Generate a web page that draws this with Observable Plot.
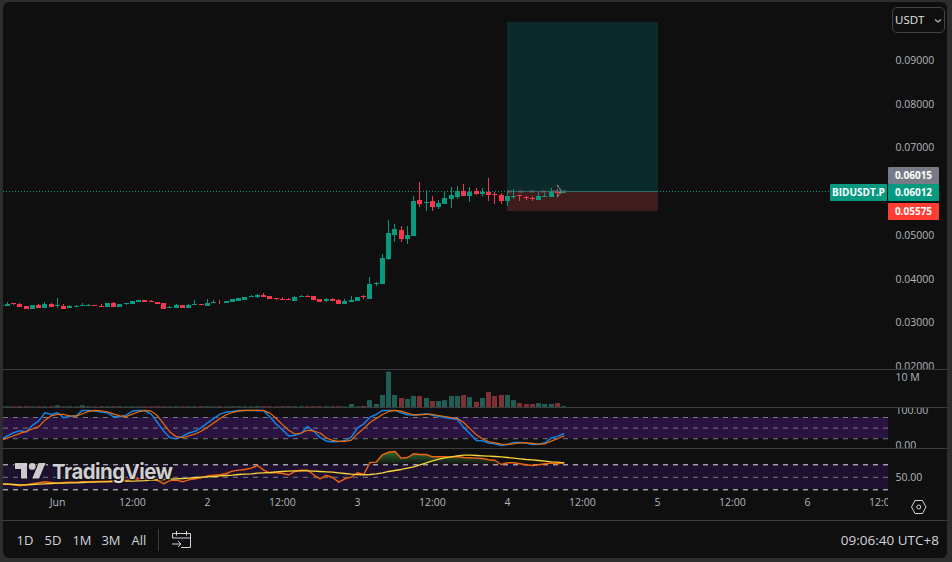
<!DOCTYPE html>
<html><head><meta charset="utf-8">
<script src="https://cdn.jsdelivr.net/npm/d3@7"></script>
<script src="https://cdn.jsdelivr.net/npm/@observablehq/plot@0.6"></script>
<style>
html,body{margin:0;padding:0;background:#2e2e2e;width:952px;height:562px;overflow:hidden}
#root{position:absolute;left:0;top:0;width:952px;height:562px;font-family:"Open Sans",sans-serif;color:#d1d4dc}
#card{position:absolute;left:3px;top:2px;width:944px;height:556px;background:#0f0f0f;border-radius:6px}
.pane{position:absolute;left:0}
.pane svg{display:block;background:transparent}
.sep{position:absolute;left:3px;width:945px;height:1px;background:#3d3d3d}
.chip{position:absolute;height:17px;line-height:17px;color:#fff;font-size:10px;font-weight:700;text-align:center;border-radius:1px}
.tb{position:absolute;top:531px;font-size:13px;font-weight:500;color:#d1d4dc;transform:translateX(-50%);line-height:18px}
</style></head>
<body><div id="root"><div id="card"></div></div>
<script>
// hourly candles, first candle = 9 hours before 1 Jun 00:00; prices in 1e-5 USDT
const firstHour = -9;
const opens = [3377,3377,3445,3422,3377,3308,3400,3331,3422,
 3384,3377,3331,3354,3384,3384,3400,3377,3354,3445,
 3354,3430,3422,3468,3514,3491,3468,3445,3331,3331,
 3400,3331,3400,3422,3377,3445,3476,3445,3468,3491,
 3514,3582,3582,3628,3605,3560,3537,3537,3491,3582,
 3613,3605,3537,3491,3537,3514,3422,3468,3491,3598,
 3537,3880,3880,4451,5000,5114,4908,4977,5800,5731,
 5777,5640,5708,5822,5868,6005,5891,6005,5937,5983,
 5937,5914,5777,5868,5914,5868,5845,5800,5868,5868,5983,5960];
const closes = [3400,3422,3430,3361,3308,3400,3339,3422,3354,
 3400,3308,3377,3377,3400,3400,3384,3361,3445,3354,
 3422,3445,3491,3514,3468,3476,3422,3308,3354,3400,
 3331,3400,3422,3400,3445,3468,3460,3491,3537,3560,
 3582,3605,3636,3582,3537,3537,3514,3514,3582,3613,
 3582,3514,3468,3537,3491,3422,3491,3514,3582,3575,
 3880,3902,4474,5045,5137,4908,5000,5777,5708,5754,
 5640,5731,5845,5914,6005,5891,5983,5937,5983,5914,
 5914,5777,5891,5891,5891,5845,5822,5891,5891,5983,5960,6005];
const highs = [3400,3468,3445,3438,3377,3400,3430,3468,3445,
 3560,3422,3400,3400,3445,3422,3400,3422,3445,3468,
 3422,3445,3491,3514,3514,3514,3468,3445,3377,3422,
 3400,3422,3514,3422,3537,3514,3514,3491,3537,3560,
 3582,3636,3659,3674,3605,3560,3582,3560,3605,3636,
 3636,3605,3537,3560,3560,3537,3537,3605,3582,3628,
 4040,3925,4565,5343,5251,5205,5205,5891,6211,6028,
 5891,5800,6005,6097,6120,6165,6097,6074,6074,6303,
 5983,5960,6028,6051,5914,5891,5891,5983,5960,6074,6051,6028];
const lows = [3377,3377,3400,3361,3308,3308,3339,3331,3354,
 3331,3308,3331,3354,3384,3384,3384,3361,3354,3354,
 3354,3400,3422,3468,3468,3476,3422,3308,3331,3331,
 3331,3331,3400,3400,3377,3445,3422,3445,3468,3491,
 3514,3582,3560,3582,3537,3514,3514,3514,3491,3582,
 3582,3514,3468,3468,3491,3422,3422,3468,3491,3537,
 3537,3834,3880,4428,4840,4840,4794,4977,5640,5548,
 5548,5594,5708,5617,5822,5891,5754,5914,5891,5777,
 5708,5708,5662,5822,5777,5800,5777,5800,5868,5868,5891,5960];
// volume, millions
const volumes = [.25,.25,.2,.25,.25,.2,.25,.2,.25,
 .55,.2,.25,.2,.55,.25,.2,.25,.2,.25,
 .25,.2,.25,.2,.25,.2,.25,.25,.2,.25,
 .2,.25,.2,.25,.25,.2,.25,.2,.25,.25,
 .25,.2,.3,.25,.25,.2,.25,.25,.25,.25,
 .25,.25,.25,.25,.25,.25,.2,1,.2,.35,
 2.3,1,4,11.8,4,3,2.7,3.7,3.7,3,
 2,2,2.3,3.7,3.7,4,3.3,1.7,3,5,
 3.7,4,4,2.3,1.3,1,1,1.3,1,1,1.3,.3];
const stochK = [18.1,27.6,37.1,42.8,39,58,70.4,93.3,88.5,
 93.3,79,83.7,84.7,100,100,98,95.2,93.3,81.8,
 81.8,86.6,98,100,99,89.5,65.7,40.9,22.8,20,
 26.6,36.1,40.9,51.4,64.7,77.1,89.5,95.2,97.1,100,
 100,100,100,99,81.8,60.9,45.7,27.6,29.5,35.2,
 54.2,40.9,23.8,13.3,11.4,12.3,14.2,24.7,50.4,61.8,
 80.9,88.5,100,100,100,93.3,87.6,86.6,88.5,90.4,
 86.6,83.7,79.9,77.1,74.2,51.4,34.2,15.2,14.2,7.6,
 5.7,0.9,3.8,9.5,9.5,7.6,3.8,4.7,8.5,21.9,26.6,34.2];
const stochD = [16.2,21.9,28.5,35.2,40.9,47.6,54.2,72.3,84.7,
 88.5,88.5,84.7,83.7,90.4,97.1,99.9,99,96.1,89.5,
 84.7,82.8,89.5,96.1,99.9,98,84.7,61.8,39,25.7,
 22.8,27.6,33.3,40.9,52.3,64.7,77.1,87.6,94.2,98,
 100,100,100,99.9,92.3,77.1,59.9,43.8,33.3,36.1,
 43.8,41.9,36.1,22.8,15.2,12.3,12.3,16.2,34.2,48.5,
 65.7,77.1,88.5,97.1,100,98,92.3,87.6,87.6,88.5,
 88.5,85.6,82.8,79.9,77.1,65.7,48.5,31.4,20,11.4,
 8.5,4.7,3.8,5.7,8.5,8.5,6.6,4.7,5.7,13.3,20,27.6];
const rsi = [39,39,38,36.4,38,39.6,41.2,42.8,41.7,
 40.6,41.7,42.2,42.2,42.8,42.8,43.3,43.8,43.8,44.9,
 46.5,44.9,46.5,47.6,48.6,48.6,44.9,39.6,44.9,45.4,
 42.8,46,47.6,49.2,52.4,53.4,54,56.1,59.8,61.4,
 62.5,64.6,68.9,61.4,57.2,57.2,56.1,54,59.3,61.4,
 61.4,54,47.6,52.9,49.7,42.2,47.6,50.2,57.2,54.5,
 73.7,74.2,86,90.2,91.3,80.6,81.7,87.6,86.5,86.5,
 82.8,82.8,82.8,82.2,83.3,81.7,81.2,80.6,80.1,78,
 76.9,70.5,73.2,73.2,71.6,70,68.9,70,71.6,72.6,71.6,73.2];
const rsiMA = [39.6,39,38.5,38,38,38.5,39,39.6,40.1,
 40.6,40.6,41.2,41.2,41.7,42.2,42.2,42.8,42.8,43.3,
 43.3,43.8,43.8,44.4,44.9,45.4,46,46.5,47,47.6,
 48.1,48.6,49.7,50.2,50.8,51.3,52.4,52.9,53.4,54.5,
 55,55.6,56.6,57.2,57.7,58.8,59.3,59.8,60.4,60.4,
 60.4,59.8,59.3,58.8,58.2,57.2,56.1,55,54.5,54,
 54.5,55.6,57.2,59.3,60.9,62.5,64.6,66.8,70,73.2,
 76.4,79,81.2,82.8,84.4,85.4,85.4,84.9,84.4,83.8,
 83.3,82.8,81.7,80.6,79.6,78.5,78,76.9,75.8,74.8,74.2,73.2];
const priceTicks = [.09,.08,.07,.05,.04,.03,.02];
const timeTicks = [[0,"Jun"],[12,"12:00"],[24,"2"],[36,"12:00"],[48,"3"],[60,"12:00"],[72,"4"],[84,"12:00"],[96,"5"],[108,"12:00"],[120,"6"],[132,"12:00"]];
const positionTop = .09869, positionEntry = .06005, positionStop = .0555;
const positionStart = 72, positionEnd = 96.1, lastHour = 81;

const GREEN="#089981", RED="#f7374f", VG="#1f5d55", VR="#7f3033";
const FONT='"Open Sans",sans-serif';
const t0 = Date.UTC(2024,5,1);
const T = h => new Date(t0 + h*36e5);
const xDomain = [T(-8.638), T(132.962)];
const rows = opens.map((o,i)=>({h:firstHour+i,t:T(firstHour+i),
  o:o/1e5,c:closes[i]/1e5,hi:highs[i]/1e5,lo:lows[i]/1e5,v:volumes[i],k:stochK[i],d:stochD[i],rsi:rsi[i],ma:rsiMA[i],up:closes[i]>=o}));

function pane(top,height,yOpts,marks,extra={}){
  const p = Plot.plot({width:952,height,marginTop:0,marginBottom:0,marginLeft:3,marginRight:64,
    style:{fontFamily:FONT,background:"transparent",color:"#b2b5be",overflow:"hidden"},
    x:{type:"utc",domain:xDomain,axis:null,...extra},
    y:{axis:null,...yOpts},marks});
  const d=document.createElement("div");d.className="pane";d.style.top=top+"px";d.style.height=height+"px";d.appendChild(p);
  document.getElementById("root").appendChild(d);
  return p;
}
const rAxis=(ticks,fmt)=>Plot.axisY({anchor:"right",ticks,tickFormat:fmt,tickSize:0,tickPadding:7,label:null,fontSize:10.5,color:"#b2b5be",fill:"#b2b5be"});

// Price pane
const pY=y=>.10371-y*.00022857;
const pricePlot = pane(0,369,{domain:[pY(369),pY(0)],range:[369,0],round:true},[
  Plot.rect([0],{x1:()=>T(positionStart),x2:()=>T(positionEnd),y1:()=>positionEntry,y2:()=>positionTop,fill:"#0d2a2a"}),
  Plot.rect([0],{x1:()=>T(positionStart),x2:()=>T(positionEnd),y1:()=>positionStop,y2:()=>positionEntry,fill:"#3e1d1c"}),
  Plot.ruleY([positionEntry],{x1:xDomain[0],x2:T(124.4),stroke:GREEN,strokeDasharray:"1 2",strokeWidth:1}),
  Plot.ruleY([positionEntry],{x1:T(positionStart),x2:T(positionEnd),stroke:"#2c6b6a",strokeWidth:1}),
  Plot.ruleX(rows,{x:"t",y1:"lo",y2:"hi",stroke:d=>d.up?GREEN:RED,strokeWidth:1,clip:true}),
  Plot.rect(rows,{x1:"t",x2:"t",insetLeft:-2,insetRight:-3,y1:"o",y2:"c",fill:d=>d.up?GREEN:RED,clip:true}),
  Plot.ruleY([positionEntry],{x1:T(positionStart),x2:T(lastHour+.4),stroke:"#5c6566",strokeWidth:2,strokeDasharray:"5 6.3"}),
  Plot.line([[80.08,.06142],[80.64,.06012],[80.08,.05891]],{x:d=>T(d[0]),y:d=>d[1],stroke:"#787b86",strokeWidth:1.5,strokeDasharray:"2 2"}),
  rAxis(priceTicks,d3.format(".5f"))
],{round:true});
// Volume pane
pane(370,37,{domain:[0,12.33],range:[37,0]},[
  Plot.rect(rows,{x1:"t",x2:"t",insetLeft:-2,insetRight:-3,y1:0,y2:"v",fill:d=>d.up?VG:VR,clip:true}),
  rAxis([10],()=>"10 M")
],{round:true});
// Stochastic RSI pane
const K_C="#1284e6", D_C="#ef6c00";
pane(408,40,{domain:[0,100],range:[37.3,1.9]},[
  Plot.rect([0],{x1:()=>xDomain[0],x2:()=>xDomain[1],y1:()=>20,y2:()=>80,fill:"#2a1340"}),
  Plot.ruleY([80,50,20],{stroke:"#787b86",strokeDasharray:"5 5",strokeWidth:1}),
  Plot.line(rows,{x:"t",y:"k",stroke:K_C,strokeWidth:1.5,clip:true}),
  Plot.line(rows,{x:"t",y:"d",stroke:D_C,strokeWidth:1.2,clip:true}),
  rAxis([100,0],d3.format(".2f"))
]);
// RSI pane
const rsiDefs = () => {
  const s=d3.create("svg:defs");
  const g=s.append("linearGradient").attr("id","rsiUp").attr("x1",0).attr("x2",0).attr("y1",0).attr("y2",1);
  g.append("stop").attr("offset",0).attr("stop-color","#4caf50").attr("stop-opacity",.6);
  g.append("stop").attr("offset",1).attr("stop-color","#4caf50").attr("stop-opacity",.03);
  return s.node();
};
const over = rows.filter(d=>d.h>=49&&d.h<=72);
pane(449,42,{domain:[27.28,94.48],range:[42,0]},[
  rsiDefs,
  Plot.rect([0],{x1:()=>xDomain[0],x2:()=>xDomain[1],y1:()=>30,y2:()=>70,fill:"#1e1130"}),
  Plot.areaY(over,{x:"t",y1:()=>70,y2:d=>Math.max(d.rsi,70),fill:"url(#rsiUp)",curve:"linear"}),
  Plot.ruleY([70,30],{stroke:"#dfe0e4",strokeDasharray:"5 5",strokeWidth:1}),
  Plot.ruleY([50],{stroke:"#787b86",strokeDasharray:"5 5",strokeWidth:1}),
  Plot.line(rows,{x:"t",y:"rsi",stroke:"#f2640a",strokeWidth:1.4,clip:true}),
  Plot.line(rows,{x:"t",y:"ma",stroke:"#f7d63a",strokeWidth:1.3,clip:true}),
  rAxis([50],d3.format(".2f"))
]);
// Time axis
const tickMap=new Map(timeTicks.map(([h,l])=>[+T(h),l]));
pane(491,29,{domain:[0,1],range:[29,0]},[
  Plot.axisX({anchor:"top",ticks:timeTicks.map(d=>T(d[0])),tickFormat:d=>tickMap.get(+d),tickSize:0,tickPadding:0,label:null,fontSize:10.5,color:"#b2b5be",fill:"#b2b5be",dy:14,clip:"frame"})
]);

const root=document.getElementById("root");
// separators
[369,407,448,520].forEach(y=>{const s=document.createElement("div");s.className="sep";s.style.top=y+"px";root.appendChild(s);});
// price chips (vertical position comes from the plot's y scale)
const yS=pricePlot.scale("y");
[{txt:"0.06015",p:.06015,c:"#787b86",dy:-16,l:888,w:51},
 {txt:"0.06012",p:.06012,c:GREEN,dy:1,l:888,w:51},
 {txt:"BIDUSDT.P",p:.06012,c:GREEN,dy:1,l:830,w:57},
 {txt:"0.05575",p:.05575,c:"#ff3d33",dy:1,l:888,w:51}].forEach(o=>{
  const d=document.createElement("div");d.className="chip";d.textContent=o.txt;
  d.style.cssText+=`left:${o.l}px;width:${o.w}px;background:${o.c};top:${yS.apply(o.p)+o.dy-8.5}px`;
  root.appendChild(d);
});
// chrome
root.insertAdjacentHTML("beforeend",`
<div style="position:absolute;left:892px;top:7px;width:51px;height:24px;border:1px solid #434343;border-radius:5px;box-sizing:content-box;font-size:11.5px;font-weight:500;line-height:24px;padding-left:0"><span style="margin-left:2px;color:#e3e5ea">USDT</span>
<svg width="8" height="6" style="position:absolute;left:41px;top:10px"><path d="M1 1.5L4 4L7 1.5" fill="none" stroke="#b2b5be" stroke-width="1.2"/></svg></div>
<div class="tb" style="left:25px">1D</div><div class="tb" style="left:53px">5D</div><div class="tb" style="left:82px">1M</div><div class="tb" style="left:111px">3M</div><div class="tb" style="left:139px">All</div>
<div style="position:absolute;left:158px;top:529px;width:1px;height:22px;background:#3d3d3d"></div>
<svg width="22" height="22" style="position:absolute;left:170px;top:529px" fill="none" stroke="#d1d4dc" stroke-width="1"><path d="M2.5 9V4.5H20.5V18.5H11"/><path d="M6.5 2V6.5M16.5 2V6.5M2.5 9H20.5"/><path d="M2 15H11M8 12L11 15L8 18"/></svg>
<div style="position:absolute;right:13px;top:531px;font-size:13.5px;line-height:18px;color:#d1d4dc;font-weight:500">09:06:40 UTC+8</div>
<svg width="18" height="16" style="position:absolute;left:910px;top:499px" fill="none" stroke="#d1d4dc" stroke-width="1"><path d="M5 1.5H12.5L16 8L12.5 14.5H5L1.5 8Z"/><circle cx="8.8" cy="8" r="2"/></svg>
<svg width="165" height="26" style="position:absolute;left:12px;top:459px;overflow:visible">
<g fill="#dedede" opacity=".9" stroke="#0f0f0f" stroke-width="2" paint-order="stroke" transform="translate(3,0.5) scale(.86)"><path d="M14 22H7V11H0V4h14v18zM28 22h-8l7.5-18h8L28 22z"/><circle cx="20" cy="8" r="4"/></g>
<text x="40" y="19.5" font-family="Inter,sans-serif" font-weight="700" font-size="20.5" fill="#dedede" opacity=".92" stroke="#0f0f0f" stroke-width="2.5" paint-order="stroke" textLength="121">TradingView</text></svg>`);
</script></body></html>
